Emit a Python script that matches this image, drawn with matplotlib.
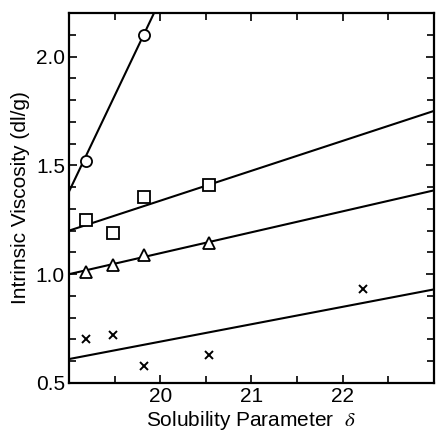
import matplotlib
matplotlib.use('Agg')
import matplotlib.pyplot as plt
from matplotlib.ticker import MultipleLocator, FixedLocator

# solubility parameter of the solvents
delta = [19.19, 19.48, 19.82, 20.53]
delta_circles = [19.19, 19.82]
delta_x = [19.19, 19.48, 19.82, 20.53, 22.22]

# intrinsic viscosity, dl/g
circles = [1.52, 2.10]
squares = [1.25, 1.19, 1.355, 1.41]
triangles = [1.01, 1.04, 1.09, 1.145]
crosses = [0.70, 0.72, 0.577, 0.63, 0.93]

# straight lines drawn through each set (value at delta = 19 and 23)
line_x = [19.0, 23.0]
line_circles = [1.38, 4.90]
line_squares = [1.20, 1.75]
line_triangles = [1.00, 1.385]
line_crosses = [0.61, 0.93]

plt.rcParams['font.family'] = ['Liberation Sans', 'DejaVu Sans']
plt.rcParams['mathtext.fontset'] = 'stix'

fig = plt.figure(figsize=(4.37, 4.33), dpi=100)
ax = fig.add_axes([0.158, 0.1155, 0.835, 0.8545])

ax.plot(line_x, line_circles, color='black', lw=1.5)
ax.plot(line_x, line_squares, color='black', lw=1.5)
ax.plot(line_x, line_triangles, color='black', lw=1.5)
ax.plot(line_x, line_crosses, color='black', lw=1.5)

ax.plot(delta_circles, circles, 'o', ms=8, mfc='white', mec='black', mew=1.3)
ax.plot(delta, squares, 's', ms=8, mfc='white', mec='black', mew=1.3)
ax.plot(delta, triangles, '^', ms=8, mfc='white', mec='black', mew=1.3)
ax.plot(delta_x, crosses, 'x', ms=5.5, color='black', mew=1.4)

ax.set_xlim(19.0, 23.0)
ax.set_ylim(0.5, 2.2)
ax.xaxis.set_major_locator(FixedLocator([20, 21, 22]))
ax.xaxis.set_minor_locator(MultipleLocator(0.5))
ax.yaxis.set_major_locator(FixedLocator([0.5, 1.0, 1.5, 2.0]))
ax.yaxis.set_minor_locator(MultipleLocator(0.1))
ax.yaxis.set_major_formatter(plt.FormatStrFormatter('%.1f'))

ax.tick_params(which='both', direction='in', top=True, right=True,
               width=1.2, labelsize=15, pad=3)
ax.tick_params(which='major', length=6)
ax.tick_params(which='minor', length=5)
for s in ax.spines.values():
    s.set_linewidth(1.6)

ax.set_xlabel(r'Solubility Parameter  $\delta$', fontsize=15, labelpad=2)
ax.set_ylabel('Intrinsic Viscosity (dl/g)', fontsize=15, labelpad=4)

fig.savefig('out.png', dpi=100)
